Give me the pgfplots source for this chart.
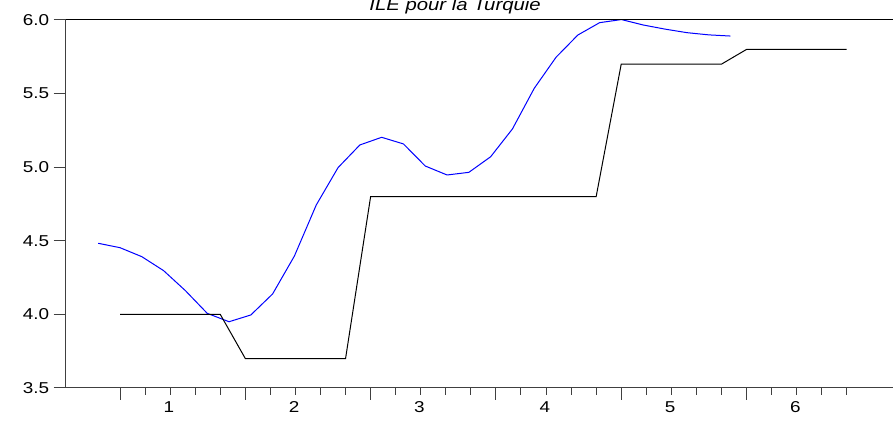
\documentclass[border=0pt]{standalone}
\usepackage{fontspec}
\setmainfont{Liberation Sans}[FakeStretch=1.2]
\usepackage{pgfplots}
\pgfplotsset{compat=1.18}
\begin{document}
\begin{tikzpicture}
\begin{axis}[
  scale only axis, width=620.5pt, height=276pt,
  xmin=-2.167, xmax=30.846, ymin=3.5, ymax=6.0,
  axis x line*=bottom, axis y line*=left,
  axis line style={black!75, line width=0.75pt},
  tick align=outside,
  tick style={black!75, line width=0.75pt},
  xtick={0,5,...,25}, xticklabels={},
  minor xtick={0,...,29},
  major tick length=9pt, minor tick length=5.25pt,
  extra x ticks={1.95,6.95,11.95,16.95,21.95,26.95},
  extra x tick labels={1,2,3,4,5,6},
  extra x tick style={major tick length=0pt, xticklabel style={yshift=-7pt}},
  ytick={3.5,4.0,4.5,5.0,5.5,6.0},
  yticklabel style={/pgf/number format/.cd, fixed, fixed zerofill, precision=1},
  /pgf/number format/assume math mode=true,
  tick label style={font=\fontsize{11.8}{14}\selectfont},
  clip=false,
]
\addplot[blue, line width=0.75pt] coordinates {
(-0.87,4.483) (0.00,4.453) (0.87,4.392) (1.74,4.297) (2.61,4.161)
(3.48,4.007) (4.35,3.950) (5.22,3.996) (6.09,4.139) (6.96,4.397)
(7.83,4.743) (8.70,4.997) (9.57,5.151) (10.44,5.203) (11.31,5.158)
(12.18,5.008) (13.05,4.947) (13.92,4.965) (14.79,5.071) (15.66,5.260)
(16.53,5.536) (17.40,5.747) (18.27,5.898) (19.14,5.982) (20.01,6.003)
(20.88,5.966) (21.75,5.938) (22.62,5.914) (23.49,5.899) (24.36,5.891)
};
\addplot[black, line width=0.75pt] coordinates {
(0,4.0) (1,4.0) (2,4.0) (3,4.0) (4,4.0)
(5,3.7) (6,3.7) (7,3.7) (8,3.7) (9,3.7)
(10,4.8) (11,4.8) (12,4.8) (13,4.8) (14,4.8)
(15,4.8) (16,4.8) (17,4.8) (18,4.8) (19,4.8)
(20,5.7) (21,5.7) (22,5.7) (23,5.7) (24,5.7)
(25,5.8) (26,5.8) (27,5.8) (28,5.8) (29,5.8)
};
\draw[black, line width=0.75pt] (rel axis cs:0,1) -- (rel axis cs:1,1);
\node[anchor=base, yshift=7pt, font=\itshape\fontsize{12.7}{15}\selectfont] at (rel axis cs:0.4706,1) {ILE pour la Turquie};
\coordinate (sw) at (rel axis cs:0,0);
\coordinate (ne) at (rel axis cs:1,1);
\end{axis}
\pgfresetboundingbox
\path[use as bounding box] ([xshift=-49.3pt,yshift=-24.75pt]sw) rectangle ([yshift=15pt]ne);
\end{tikzpicture}
\end{document}
